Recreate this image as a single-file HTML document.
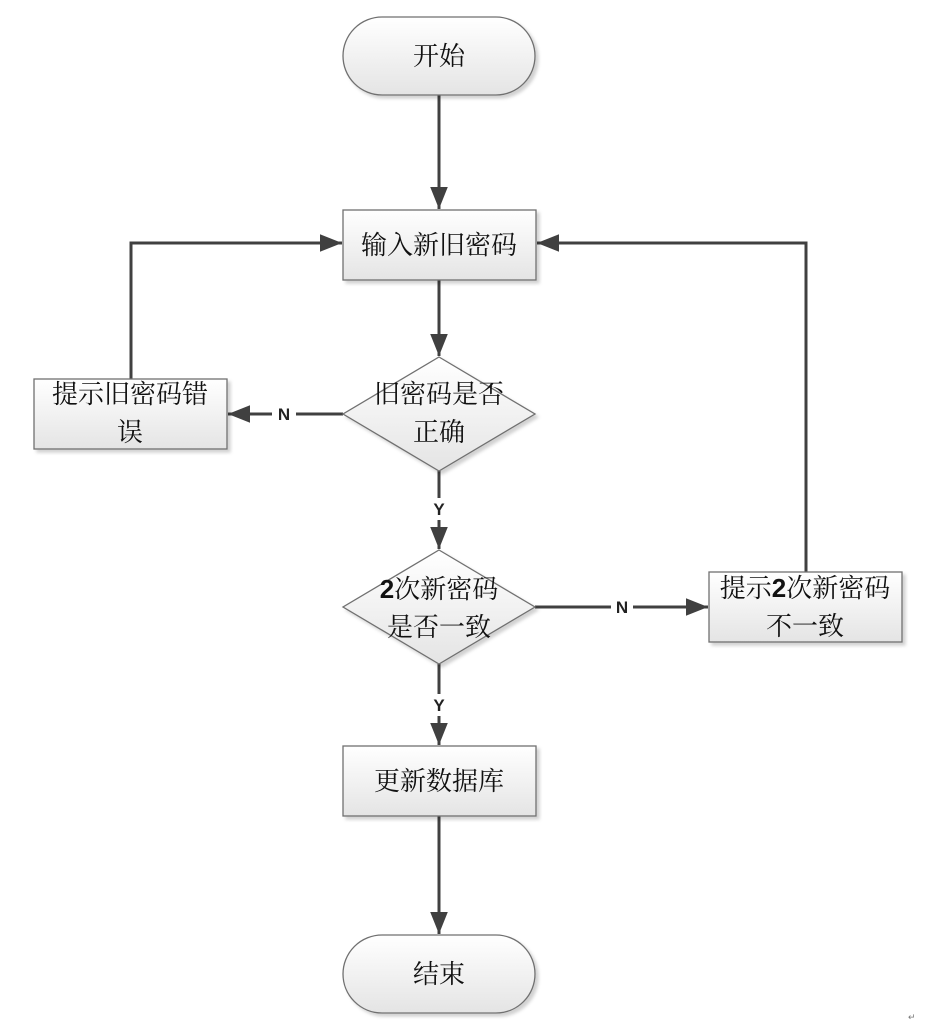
<!DOCTYPE html>
<html><head><meta charset="utf-8"><style>
html,body{margin:0;padding:0;background:#fff;}
svg text{font-family:"Noto Serif CJK SC","Noto Serif CJK","Liberation Serif",serif;font-size:26px;fill:#111;}
.lb{font-family:"Liberation Sans",sans-serif;font-size:17px;font-weight:bold;fill:#222;}
.b2{font-family:"Liberation Sans",sans-serif;font-weight:bold;}
</style></head><body>
<svg width="939" height="1023" xmlns="http://www.w3.org/2000/svg">
<defs>
<linearGradient id="g" x1="0" y1="0" x2="0" y2="1"><stop offset="0" stop-color="#ffffff"/><stop offset="1" stop-color="#e4e4e4"/></linearGradient>
<marker id="b" viewBox="0 0 10 10" markerWidth="22" markerHeight="22" refX="10" refY="5" orient="auto" markerUnits="userSpaceOnUse"><path d="M0,1 L10,5 L0,9 z" fill="#404040"/></marker>
<filter id="s"><feDropShadow dx="3" dy="3" stdDeviation="1.5" flood-color="#000" flood-opacity="0.18"/></filter>
</defs>
<g stroke="#404040" stroke-width="3" fill="none">
<line x1="439" y1="95" x2="439" y2="209" marker-end="url(#b)"/>
<line x1="439" y1="280" x2="439" y2="356" marker-end="url(#b)"/>
<line x1="343" y1="414" x2="228" y2="414" marker-end="url(#b)"/>
<polyline points="131,379 131,243 342,243" marker-end="url(#b)"/>
<line x1="439" y1="471" x2="439" y2="549" marker-end="url(#b)"/>
<line x1="535" y1="607" x2="708" y2="607" marker-end="url(#b)"/>
<polyline points="806,572 806,243 537,243" marker-end="url(#b)"/>
<line x1="439" y1="664" x2="439" y2="745" marker-end="url(#b)"/>
<line x1="439" y1="816" x2="439" y2="934" marker-end="url(#b)"/>
</g>
<g fill="#fff">
<rect x="272" y="404" width="24" height="20"/>
<rect x="430" y="498" width="18" height="22"/>
<rect x="611" y="597" width="22" height="20"/>
<rect x="430" y="694" width="18" height="22"/>
</g>
<text class="lb" x="284" y="420" text-anchor="middle">N</text>
<text class="lb" x="439" y="515" text-anchor="middle">Y</text>
<text class="lb" x="622" y="613" text-anchor="middle">N</text>
<text class="lb" x="439" y="711" text-anchor="middle">Y</text>
<g stroke="#707070" stroke-width="1.3" fill="url(#g)" filter="url(#s)">
<rect x="343" y="17" width="192" height="78" rx="39"/>
<rect x="343" y="210" width="193" height="70"/>
<polygon points="439,357 535,414 439,471 343,414"/>
<rect x="34" y="379" width="193" height="70"/>
<polygon points="439,550 535,607 439,664 343,607"/>
<rect x="709" y="572" width="193" height="70"/>
<rect x="343" y="746" width="193" height="70"/>
<rect x="343" y="935" width="192" height="78" rx="39"/>
</g>
<text x="439" y="65" text-anchor="middle">开始</text>
<text x="439" y="254" text-anchor="middle">输入新旧密码</text>
<text x="439" y="403" text-anchor="middle">旧密码是否</text>
<text x="439" y="441" text-anchor="middle">正确</text>
<text x="130" y="403" text-anchor="middle">提示旧密码错</text>
<text x="130" y="441" text-anchor="middle">误</text>
<text x="439" y="598" text-anchor="middle"><tspan class="b2">2</tspan>次新密码</text>
<text x="439" y="636" text-anchor="middle">是否一致</text>
<text x="805" y="597" text-anchor="middle">提示<tspan class="b2">2</tspan>次新密码</text>
<text x="805" y="635" text-anchor="middle">不一致</text>
<text x="439" y="790" text-anchor="middle">更新数据库</text>
<text x="439" y="983" text-anchor="middle">结束</text>
<text x="908" y="1020" style="font-size:9px;fill:#777">↵</text>
</svg>
</body></html>
